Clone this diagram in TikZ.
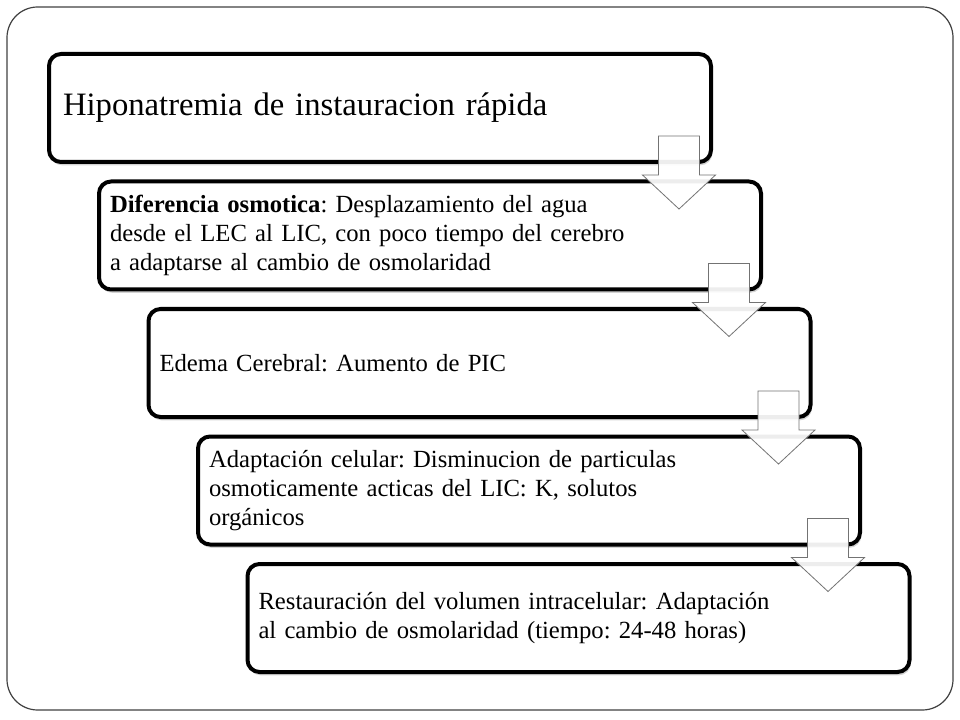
\documentclass[tikz,border=0pt]{standalone}
\usepackage{fontspec}
\setmainfont{Liberation Serif}
\usetikzlibrary{shadows,calc}
\begin{document}
\begin{tikzpicture}[x=0.75pt,y=-0.75pt,
  box/.style={draw=black, line width=3pt, rounded corners=9pt, fill=white,
    minimum height=81pt, minimum width=496.5pt, text width=480pt, inner xsep=8.25pt,
    align=left, font=\fontsize{18.5}{21.75}\selectfont\frenchspacing,
    drop shadow={shadow xshift=1pt, shadow yshift=-2.5pt, opacity=0.35}},
  bigbox/.style={box, inner xsep=10.5pt, text width=475.5pt, font=\fontsize{24.5}{30}\selectfont\frenchspacing},
  blockarrow/.style={draw=black!55, line width=0.6pt, fill=white, fill opacity=0.93},
  framest/.style={draw=black!75, line width=0.9pt, rounded corners=23pt}]
\useasboundingbox (0,0) rectangle (960,720);
\draw[framest] (7,7) rectangle (953,710);
\node[bigbox] (b1) at (380,108) {Hiponatremia de instauracion rápida};
\node[box] (b2) at (430,235.5) {\textbf{Diferencia osmotica}: Desplazamiento del agua\\desde el LEC al LIC, con poco tiempo del cerebro\\a adaptarse al cambio de osmolaridad};
\node[box] (b3) at (479.5,363) {Edema Cerebral: Aumento de PIC};
\node[box] (b4) at (529,490.5) {Adaptación celular: Disminucion de particulas\\osmoticamente acticas del LIC: K, solutos\\orgánicos};
\node[box] (b5) at (578.5,618) {Restauración del volumen intracelular: Adaptación\\al cambio de osmolaridad (tiempo: 24-48 horas)};
\foreach \a/\b in {b1/b2,b2/b3,b3/b4,b4/b5}{
  \coordinate (t) at ($(\a.south east)+(-34,-28)$);
  \draw[blockarrow, shift={(t)}] (-20.5,0) -- (20.5,0) -- (20.5,39) -- (36.5,39) -- (0,73) -- (-36.5,39) -- (-20.5,39) -- cycle;
}
\end{tikzpicture}
\end{document}
